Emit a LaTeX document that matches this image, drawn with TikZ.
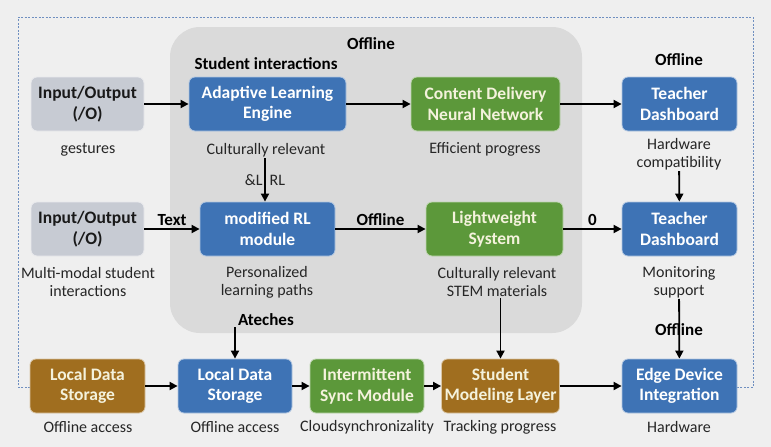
\documentclass[tikz,border=0pt]{standalone}
\usepackage{fontspec}
\setmainfont{Carlito}
\usetikzlibrary{arrows.meta,calc}
\definecolor{bgc}{HTML}{EFEFEF}
\definecolor{regc}{HTML}{DADADA}
\definecolor{bluec}{HTML}{3E73B5}
\definecolor{greenc}{HTML}{5C983A}
\definecolor{brownc}{HTML}{A06E1F}
\definecolor{greyc}{HTML}{C7CBD3}
\definecolor{dashc}{HTML}{6F8FC0}
\definecolor{lighttxt}{HTML}{F4F2DC}
\tikzset{
  box/.style={rounded corners=6pt, minimum height=54pt, align=center, inner sep=1pt,
    font=\fontsize{17.5}{20.5}\selectfont\bfseries, draw=white!60!#1, line width=0.8pt, fill=#1},
  bluebox/.style={box=bluec, text=white},
  greenbox/.style={box=greenc, text=lighttxt},
  brownbox/.style={box=brownc, text=lighttxt},
  greybox/.style={box=greyc, text=black!90},
  lbl/.style={font=\fontsize{16}{18}\selectfont, align=center, text=black!85, inner sep=1pt},
  blbl/.style={font=\fontsize{17}{19}\selectfont\bfseries, text=black, inner sep=1pt},
  arr/.style={line width=1.8pt, -{Triangle[length=8pt,width=8pt]}},
}
\begin{document}
\begin{tikzpicture}[x=1pt,y=-1pt]
\fill[bgc] (0,0) rectangle (771,447);
\useasboundingbox (0,0) rectangle (771,447);
% gray region
\fill[regc, rounded corners=30pt] (170,27) rectangle (582,333);
% dashed outline
\draw[dashc, line width=1pt, dash pattern=on 2pt off 1.5pt] (30,387) -- (18,387) -- (18,17) -- (753,17) -- (753,387) -- (737,387);

% row 1
\node[greybox, minimum width=113pt] (io1) at (87.5,104) {Input/Output\\(/O)};
\node[bluebox, minimum width=157pt] (ale) at (267.5,104) {Adaptive Learning\\Engine};
\node[greenbox, minimum width=149pt] (cdnn) at (485.5,104) {Content Delivery\\Neural Network};
\node[bluebox, minimum width=115pt] (td1) at (679.5,104) {Teacher\\Dashboard};
% row 2
\node[greybox, minimum width=113pt] (io2) at (87.5,229) {Input/Output\\(/O)};
\node[bluebox, minimum width=135pt] (mrl) at (267.5,229) {modified RL\\module};
\node[greenbox, minimum width=137pt] (lw) at (494.5,229) {Lightweight\\System};
\node[bluebox, minimum width=115pt] (td2) at (679.5,229) {Teacher\\Dashboard};
% row 3
\node[brownbox, minimum width=115pt] (lds1) at (87.5,386) {Local Data\\Storage};
\node[bluebox, minimum width=114pt] (lds2) at (235,386) {Local Data\\Storage};
\node[greenbox, minimum width=114pt] (ism) at (367,386) {Intermittent\\Sync Module};
\node[brownbox, minimum width=118pt] (sml) at (500.5,386) {Student\\Modeling Layer};
\node[bluebox, minimum width=115pt] (edge) at (679.5,386) {Edge Device\\Integration};

% titles
\node[blbl] (off1) at (371,44) {Offline};
\node[blbl] (si) at (266,64) {Student interactions};
\node[blbl] (off2) at (679,60) {Offline};

% labels
\node[lbl] (l1) at (88,150) {gestures};
\node[lbl] (l2) at (266,150) {Culturally relevant};
\node[lbl] (l3) at (485,149) {Efficient progress};
\node[lbl] (l4) at (679,154) {Hardware\\compatibility};
\node[lbl] (l5) at (88,282) {Multi-modal student\\interactions};
\node[lbl] (l6) at (267,282) {Personalized\\learning paths};
\node[lbl] (l7) at (497,282) {Culturally relevant\\STEM materials};
\node[lbl] (l8) at (679,282) {Monitoring\\support};
\node[lbl] (l9) at (88,427) {Offline access};
\node[lbl] (l10) at (235,427) {Offline access};
\node[lbl] (l11) at (367,427) {Cloudsynchronizality};
\node[lbl] (l12) at (500,427) {Tracking progress};
\node[lbl] (l13) at (679,427) {Hardware};
\node[blbl] (ateches) at (266,320) {Ateches};

% arrows row 1
\draw[arr] (io1) -- (ale);
\draw[arr] (ale) -- (cdnn);
\draw[arr] (cdnn) -- (td1);
% arrows row 2
\draw[arr] (io2) -- node[blbl, above=1pt] {Text} (mrl);
\draw[arr] (mrl) -- node[blbl, above=1pt] {Offline} (lw);
\draw[arr] (lw) -- node[blbl, above=1pt] {0} (td2);
% row 3
\draw[arr] (lds1) -- (lds2);
\draw[arr] (lds2) -- (ism);
\draw[arr] (ism) -- (sml);
\draw[arr] (sml) -- (edge);
% verticals
\coordinate (a1) at ($(l2.south)+(-1,0)$);
\coordinate (a2) at (a1 |- mrl.north);
\draw[arr] (a1) -- node[lbl] {\&L\hspace{7pt}RL} (a2);
\draw[arr] (l4) -- (td2);
\draw[arr] (ateches.south -| lds2.north) -- (lds2.north);
\draw[arr] (l7.south -| sml.north) -- (sml.north);
\node[blbl] (off3) at (679,330) {Offline};
\draw[arr] (l8) -- (edge);
\end{tikzpicture}
\end{document}
